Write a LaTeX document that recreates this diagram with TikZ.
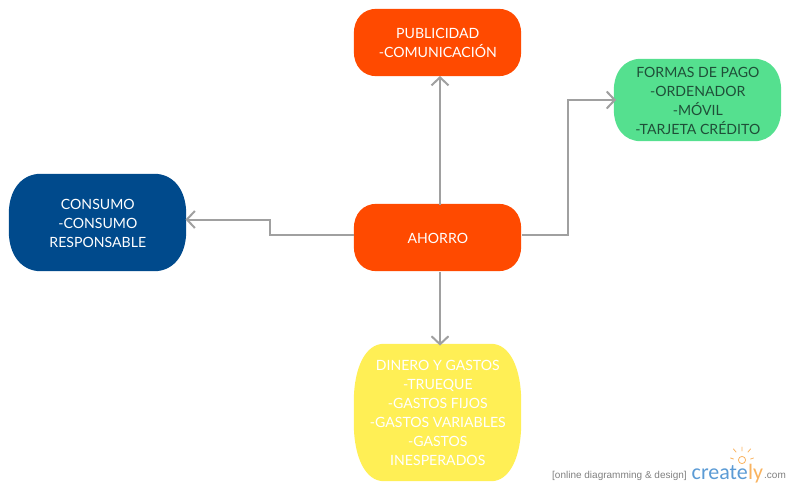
\documentclass[tikz,border=0pt]{standalone}
\usepackage{fontspec}
\setmainfont{Lato}
\newfontfamily\logofont{Liberation Sans}
\newfontfamily\createlyfont{Carlito}
\usetikzlibrary{arrows.meta,calc,backgrounds}
\definecolor{cOrange}{HTML}{FF4A00}
\definecolor{cBlue}{HTML}{004A8C}
\definecolor{cGreen}{HTML}{55E08F}
\definecolor{cYellow}{HTML}{FFEF55}
\definecolor{cLine}{HTML}{A0A0A0}
\definecolor{cDark}{HTML}{1F4F38}
\definecolor{cLogoBlue}{HTML}{5B9BD5}
\definecolor{cLogoOrange}{HTML}{F9B35F}
\tikzset{
  box/.style={rectangle,inner sep=0pt,align=center,font=\fontsize{14.1}{19}\selectfont,text=white,anchor=center},
  link/.style={draw=cLine,line width=2pt,-{Straight Barb[length=8pt,width=17pt,line width=2pt]}},
  smalltext/.style={anchor=base west,inner sep=0pt,text=black!50,font=\logofont\fontsize{10}{11}\selectfont},
}
% soft box behind a node: node name, colour, corner radius in x and in y
\newcommand{\softbox}[4]{%
  \begin{scope}[on background layer]
    \coordinate (nw) at ($(#1.north west)+(-0.3,-0.8)$);
    \coordinate (se) at ($(#1.south east)+(-0.3,-0.8)$);
    \coordinate (ne) at (se |- nw);
    \coordinate (sw) at (nw |- se);
    \fill[#2]
      ($(nw)+(#3,0)$) -- ($(ne)+(-#3,0)$)
      .. controls +(0.6*#3,0) and ($(ne)+(0,0.4*#4)$) .. ($(ne)+(0,#4)$)
      -- ($(se)+(0,-#4)$)
      .. controls +(0,0.6*#4) and ($(se)+(-0.4*#3,0)$) .. ($(se)+(-#3,0)$)
      -- ($(sw)+(#3,0)$)
      .. controls +(-0.6*#3,0) and ($(sw)+(0,-0.4*#4)$) .. ($(sw)+(0,-#4)$)
      -- ($(nw)+(0,#4)$)
      .. controls +(0,-0.6*#4) and ($(nw)+(0.4*#3,0)$) .. cycle;
  \end{scope}}
\begin{document}
\begin{tikzpicture}[x=1pt,y=-1pt]
\useasboundingbox (0,0) rectangle (790,490);
\node[box,minimum width=167pt,minimum height=67pt] (pub) at (437.8,43.3) {PUBLICIDAD\\-COMUNICACIÓN};
\node[box,minimum width=167pt,minimum height=67pt] (aho) at (437.8,238.3) {AHORRO};
\node[box,minimum width=177pt,minimum height=97pt] (con) at (97.8,223.3) {CONSUMO\\-CONSUMO\\RESPONSABLE};
\node[box,text=cDark,minimum width=167pt,minimum height=82pt] (pag) at (697.8,100.8) {FORMAS DE PAGO\\-ORDENADOR\\-MÓVIL\\-TARJETA CRÉDITO};
\node[box,minimum width=167pt,minimum height=137pt] (din) at (437.8,413.3) {DINERO Y GASTOS\\-TRUEQUE\\-GASTOS FIJOS\\-GASTOS VARIABLES\\-GASTOS\\INESPERADOS};
\softbox{pub}{cOrange}{23}{25}
\softbox{aho}{cOrange}{23}{25}
\softbox{con}{cBlue}{32}{40}
\softbox{pag}{cGreen}{27}{32}
\softbox{din}{cYellow}{30}{58}
\coordinate (vx) at (440,234.5);
\coordinate (kl) at (270,234.5);
\coordinate (kr) at (568,234.5);
\draw[link,shorten >=-1pt] (vx |- aho.north) -- (vx |- pub.south);
\draw[link,shorten >=-1pt] (vx |- aho.south) -- (vx |- din.north);
\draw[link,shorten >=-1pt] (aho.west |- vx) -- (kl) -- (kl |- 0,219.5) -- (con.east |- 0,219.5);
\draw[link,shorten >=-2pt] (aho.east |- vx) -- (kr) -- (kr |- 0,100) -- (pag.west |- 0,100);
\node[smalltext] (tag) at (552,478) {[online diagramming \& design]};
\node[anchor=base west,inner sep=0pt,text=cLogoBlue,font=\createlyfont\fontsize{22}{26}\selectfont] (logo) at (691.5,479) {create};
\node[anchor=base west,inner sep=0pt,text=cLogoOrange,font=\createlyfont\fontsize{22}{26}\selectfont] (logoy) at (logo.base east) {ly};
\node[smalltext] (com) at (764,478) {.com};
\draw[cLogoOrange,line width=0.8pt] (742,460) circle (3.6pt);
\draw[cLogoOrange,line width=0.8pt,line cap=round]
  (742,447) -- (742,451) (733.5,449) -- (736,452) (750.5,449) -- (748,452)
  (730.5,458) -- (733.5,459) (753.5,458) -- (750.5,459);
\end{tikzpicture}
\end{document}
